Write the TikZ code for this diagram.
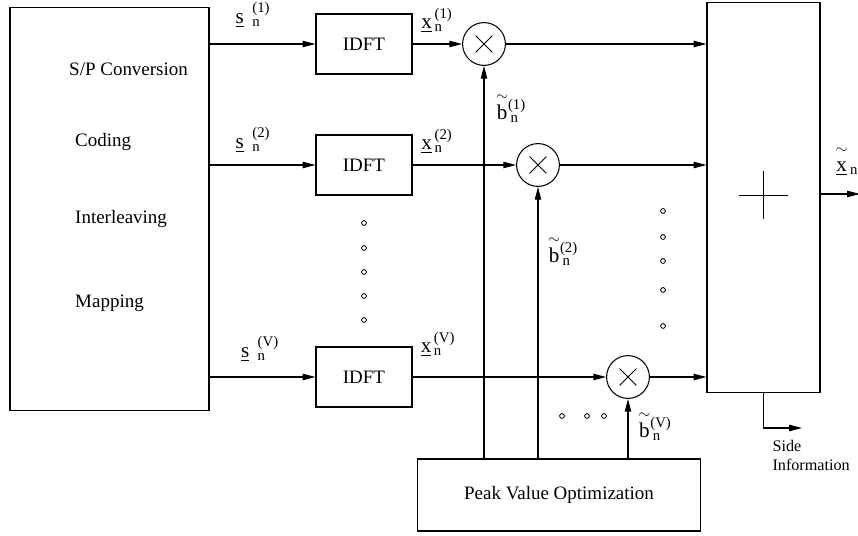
\documentclass[tikz,border=0pt]{standalone}
\usepackage{amsmath}
\usepackage{fontspec}
\setmainfont{Liberation Serif}
\usetikzlibrary{arrows.meta}

\begin{document}
\begin{tikzpicture}[x=0.025cm, y=-0.025cm, line width=0.75pt,
  >={Triangle[length=0.32cm,width=0.16cm]},
  every node/.style={font=\fontsize{13.5}{16}\selectfont},
  blk/.style={draw, rectangle, inner sep=0pt},
  mult/.style={draw, circle, minimum size=1.07cm, inner sep=0pt,
    path picture={\draw[line width=0.6pt]
      ([shift={(-0.21cm,-0.21cm)}]path picture bounding box.center) -- ++(0.42cm,0.42cm)
      ([shift={(-0.21cm,0.21cm)}]path picture bounding box.center) -- ++(0.42cm,-0.42cm);}},
  lab/.style={inner sep=0pt, font=\fontsize{15}{18}\selectfont},
  dots/.style={line width=0.6pt}]
\useasboundingbox (0,0) rectangle (858,536);

% encoder
\node[blk, minimum width=4.975cm, minimum height=10.05cm] (enc) at (109.5,209) {};
\node[anchor=west] (spc) at (64,69) {S/P Conversion};
\node[anchor=west] (cod) at (70,142) {Coding};
\node[anchor=west] (ilv) at (70,219) {Interleaving};
\node[anchor=west] (map) at (70,303) {Mapping};

% IDFT branches
\node[blk, minimum width=2.4cm, minimum height=1.5cm] (idft1) at (364,44) {IDFT};
\node[blk, minimum width=2.4cm, minimum height=1.5cm] (idft2) at (364,165) {IDFT};
\node[blk, minimum width=2.4cm, minimum height=1.5cm] (idftv) at (364,377) {IDFT};

\node[mult] (mul1) at (484,44) {};
\node[mult] (mul2) at (538,165) {};
\node[mult] (mulv) at (628,377) {};

% adder and optimizer
\node[blk, minimum width=2.825cm, minimum height=9.725cm] (sum) at (763.5,197.5) {};
\draw ([shift={(-0.6cm,0.06cm)}]sum.center) -- ([shift={(0.6cm,0.06cm)}]sum.center)
      ([yshift=-0.54cm]sum.center) -- ([yshift=0.66cm]sum.center);
\node[blk, minimum width=7.05cm, minimum height=1.8cm] (peak) at (559,495) {Peak Value Optimization};

\coordinate (xout) at (860,194);
\coordinate (sidend) at (802,428);

\draw[->] (enc.east |- idft1.west) -- (idft1.west);
\draw[->] (enc.east |- idft2.west) -- (idft2.west);
\draw[->] (enc.east |- idftv.west) -- (idftv.west);

\draw[->] (idft1.east) -- (mul1.west);
\draw[->] (idft2.east) -- (mul2.west);
\draw[->] (idftv.east) -- (mulv.west);

\draw[->] (mul1.east) -- (mul1.east -| sum.west);
\draw[->] (mul2.east) -- (mul2.east -| sum.west);
\draw[->] (mulv.east) -- (mulv.east -| sum.west);

\draw[->] (peak.north -| mul1) -- (mul1.south);
\draw[->] (peak.north -| mul2) -- (mul2.south);
\draw[->] (peak.north -| mulv) -- (mulv.south);

\draw[->] (sum.east |- xout) -- (xout);
\draw[->] (sum.south) |- (sidend);

% labels
\node[lab] (ls1) at (253,15) {$\underline{\text{s}}^{\hspace{6pt}\text{(1)}}_{\hspace{6pt}\text{n}}$};
\node[lab] (ls2) at (253,140) {$\underline{\text{s}}^{\hspace{6pt}\text{(2)}}_{\hspace{6pt}\text{n}}$};
\node[lab] (lsv) at (260,349) {$\underline{\text{s}}^{\hspace{6pt}\text{(V)}}_{\hspace{6pt}\text{n}}$};
\node[lab] (lx1) at (437,20) {$\underline{\text{x}}^{\,\text{(1)}}_{\,\text{n}}$};
\node[lab] (lx2) at (437,141) {$\underline{\text{x}}^{\,\text{(2)}}_{\,\text{n}}$};
\node[lab] (lxv) at (438,344) {$\underline{\text{x}}^{\,\text{(V)}}_{\,\text{n}}$};
\node[lab] (lb1) at (511,108) {$\overset{\sim}{\text{b}}{}^{\text{(1)}}_{\,\text{n}}$};
\node[lab] (lb2) at (563,251) {$\overset{\sim}{\text{b}}{}^{\text{(2)}}_{\,\text{n}}$};
\node[lab] (lbv) at (655,426) {$\overset{\sim}{\text{b}}{}^{\text{(V)}}_{\,\text{n}}$};
\node[lab] (lxo) at (847,161) {$\overset{\raisebox{3pt}{$\scriptstyle\sim$}}{\underline{\text{x}}}{}_{\,\text{n}}$};
\node[anchor=north west, align=left, inner sep=0pt, font=\fontsize{11.5}{13.5}\selectfont] (side) at (772,440) {Side\\Information};

% continuation dots
\foreach \y in {223,248,272,296,320} \draw[dots] (364,\y) circle (0.06cm);
\foreach \y in {211,237,261,290,326} \draw[dots] (663,\y) circle (0.06cm);
\foreach \x in {562,587,604} \draw[dots] (\x,416) circle (0.06cm);

\end{tikzpicture}
\end{document}
